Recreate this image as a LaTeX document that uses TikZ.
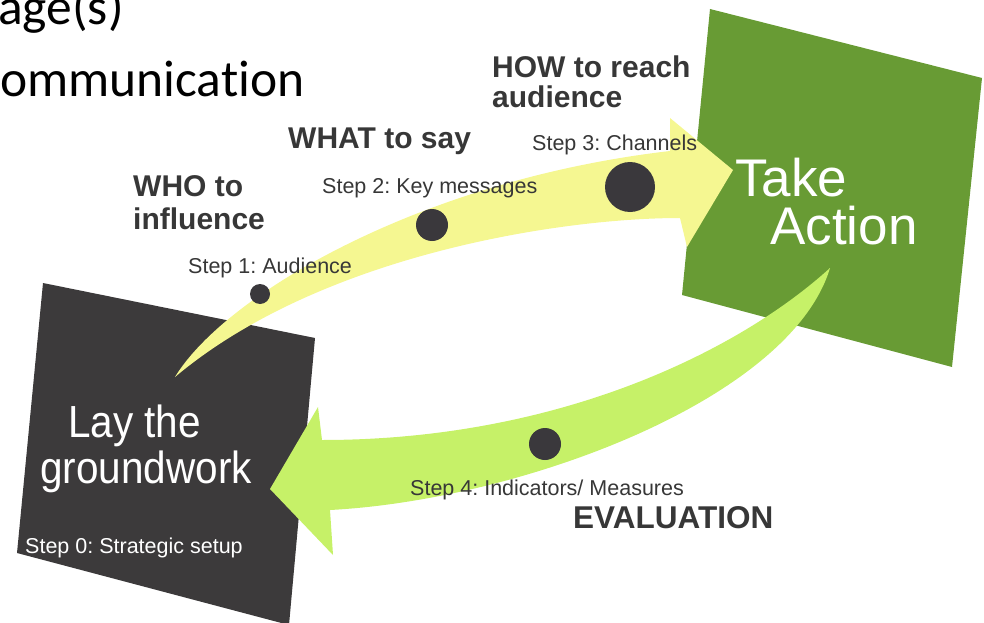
\documentclass[tikz,border=0pt]{standalone}
\usepackage{fontspec}
\setmainfont{Liberation Sans}
\newfontfamily\califont[Ligatures=NoCommon]{Carlito}
\newfontfamily\stepfont{Liberation Sans}
\newfontfamily\bigfont[FakeStretch=0.9]{Liberation Sans}
\newfontfamily\takefont{Liberation Sans}
\definecolor{darkbox}{RGB}{60,58,59}
\definecolor{greenbox}{RGB}{104,155,52}
\definecolor{yellowarrow}{RGB}{245,247,145}
\definecolor{limearrow}{RGB}{198,241,104}
\definecolor{dotc}{RGB}{58,56,60}
\definecolor{txtgrey}{RGB}{55,55,55}
\frenchspacing
\begin{document}
\begin{tikzpicture}[x=1pt,y=-1pt,
  lbl/.style={inner sep=0pt, anchor=base west, text=txtgrey, font=\stepfont\fontsize{21.5}{24}\selectfont},
  head/.style={inner sep=0pt, anchor=base west, text=txtgrey, font=\fontsize{30}{33}\selectfont\bfseries},
  big/.style={inner sep=0pt, anchor=base west, text=white, font=\bigfont\fontsize{45}{50}\selectfont},
  slide/.style={inner sep=0pt, anchor=base west, text=black, font=\califont\fontsize{51.5}{60}\selectfont},
  dot/.style={circle, fill=dotc, inner sep=0pt}]
\useasboundingbox (0,0) rectangle (984,623);
\clip (0,0) rectangle (984,623);
% boxes
\fill[greenbox] (710,9) -- (982,78) -- (952,367) -- (682,295) -- cycle;
\fill[darkbox] (43,283) -- (315,338) -- (289,625) -- (17,553) -- cycle;
% upper arrow
\fill[yellowarrow] (175,377) .. controls (225,295) and (420,180) .. (670,151)
  -- (670,118) -- (733,170) -- (687,247) -- (680,218)
  .. controls (560,218) and (320,255) .. (175,377) -- cycle;
% lower arrow
\fill[limearrow] (830,268) .. controls (740,350) and (560,440) .. (322,440)
  -- (318,407) -- (270,489) -- (333,555) -- (330,510)
  .. controls (520,500) and (790,400) .. (830,268) -- cycle;
% dots
\node[dot, minimum size=20pt] (d1) at (260,294) {};
\node[dot, minimum size=32pt] (d2) at (432,225) {};
\node[dot, minimum size=50pt] (d3) at (630,187) {};
\node[dot, minimum size=32pt] (d4) at (545,444) {};
% slide text
\node[slide] (t0) at (-2,25) {age(s)};
\node[slide] (t1) at (0,97) {ommunication};
% headings
\node[head] (who1) at (133,196) {WHO to};
\node[head] (who2) at (133,229) {influence};
\node[head] (what) at (288,148) {WHAT to say};
\node[head] (how1) at (492,78) {HOW to reach};
\node[head] (how2) at (492,108) {audience};
\node[head, font=\fontsize{31.5}{34}\selectfont\bfseries] (eval) at (573,528) {EVALUATION};
% step labels
\node[lbl] (s1) at (188,273) {Step 1: Audience};
\node[lbl] (s2) at (322,193) {Step 2: Key messages};
\node[lbl] (s3) at (532,150) {Step 3: Channels};
\node[lbl] (s4) at (410,495) {Step 4: Indicators/ Measures};
\node[lbl, text=white] (s0) at (25,553) {Step 0: Strategic setup};
% big labels
\node[big, font=\takefont\fontsize{53}{58}\selectfont] (take) at (735,196) {Take};
\node[big, font=\takefont\fontsize{53}{58}\selectfont] (action) at (770,244) {Action};
\node[big] (lay) at (68,437) {Lay the};
\node[big] (ground) at (40,483) {groundwork};
\end{tikzpicture}
\end{document}
